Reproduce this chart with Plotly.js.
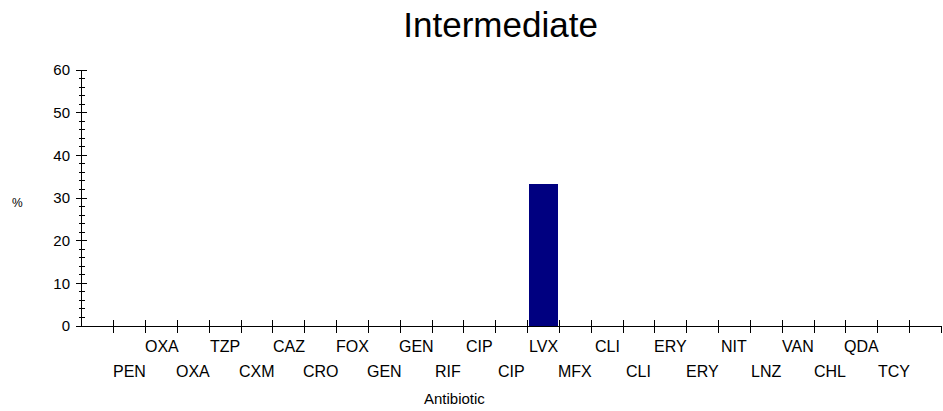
<!DOCTYPE html>
<html>
<head>
<meta charset="utf-8">
<script src="https://cdn.plot.ly/plotly-3.0.1.min.js"></script>
<style>html,body{margin:0;padding:0;background:#fff;}#chart{width:943px;height:411px;}</style>
</head>
<body>
<div id="chart"></div>
<script>
const categories = ['PEN','OXA','OXA','TZP','CXM','CAZ','CRO','FOX','GEN','GEN','RIF','CIP','CIP','LVX','MFX','CLI','CLI','ERY','ERY','NIT','LNZ','VAN','CHL','QDA','TCY'];
const values = [0,0,0,0,0,0,0,0,0,0,0,0,0,33.3,0,0,0,0,0,0,0,0,0,0,0];
const yTickVals = [0,10,20,30,40,50,60];
const titleText = 'Intermediate';
const xTitle = 'Antibiotic';
const yTitle = '%';

const FONT = 'Liberation Sans, Arial, sans-serif';
const firstSlot = 1;             // first category sits in the second slot
const nSlots = 27;
const xpos = categories.map((c, i) => i + firstSlot + 0.5);
const slotEdges = Array.from({length: nSlots}, (_, i) => i + 1);
const xRange = [0, 27.02];
const yRange = [0, 60];

const trace = {
  type: 'bar',
  x: xpos,
  y: values,
  width: 0.9,
  marker: {color: '#000080', line: {width: 0}},
  hoverinfo: 'skip',
  xaxis: 'x',
  yaxis: 'y'
};
// invisible companions so overlay axes get drawn
const ghost = (xa, ya) => ({type: 'scatter', x: [xRange[0]], y: [0], xaxis: xa, yaxis: ya, mode: 'markers', marker: {opacity: 0}, hoverinfo: 'skip', showlegend: false});

const annotations = categories.map((c, i) => ({
  text: c,
  x: xpos[i],
  xref: 'x',
  y: 0,
  yref: 'paper',
  xanchor: 'center',
  yanchor: 'middle',
  yshift: (i % 2 === 1) ? -20 : -45,
  showarrow: false,
  font: {family: FONT, size: 16, color: '#000'}
}));
annotations.push({
  text: xTitle, x: 454, xref: 'paper', y: 0, yref: 'paper', showarrow: false,
  xanchor: 'center', yanchor: 'middle', yshift: -72,
  font: {family: FONT, size: 15, color: '#000'}
});

const margin = {l: 82, r: 1, t: 70, b: 85, pad: 0};
const plotW = 943 - margin.l - margin.r;

const layout = {
  width: 943, height: 411,
  margin: margin,
  paper_bgcolor: '#fff', plot_bgcolor: '#fff',
  showlegend: false,
  title: {
    text: titleText, x: 459/943, xref: 'paper', xanchor: 'center',
    y: 1 - 25/411, yref: 'container', yanchor: 'middle',
    font: {family: FONT, size: 35, color: '#000'}
  },
  xaxis: {
    range: xRange, showgrid: false, zeroline: false,
    showline: true, linecolor: '#000', linewidth: 1,
    tickmode: 'array', tickvals: slotEdges, ticks: 'outside', ticklen: 6, tickcolor: '#000', tickwidth: 1,
    showticklabels: false, fixedrange: true
  },
  xaxis3: {
    overlaying: 'x', anchor: 'y', range: xRange, showgrid: false, zeroline: false, showline: false,
    tickmode: 'array', tickvals: slotEdges, ticks: 'inside', ticklen: 6, tickcolor: '#000', tickwidth: 1,
    showticklabels: false, fixedrange: true
  },
  yaxis: {
    range: yRange, showgrid: false, zeroline: false,
    showline: true, linecolor: '#000', linewidth: 1,
    tickmode: 'array', tickvals: yTickVals, ticks: '', ticklabelstandoff: 8,
    tickfont: {family: FONT, size: 15, color: '#000'},
    fixedrange: true
  },
  yaxis2: {
    overlaying: 'y', anchor: 'free', position: 5 / plotW, side: 'left', range: yRange,
    showgrid: false, zeroline: false, showline: false,
    tickmode: 'array', tickvals: yTickVals, ticks: 'outside', ticklen: 11, tickcolor: '#000', tickwidth: 1,
    showticklabels: false, fixedrange: true
  },
  yaxis3: {
    overlaying: 'y', anchor: 'free', position: 3 / plotW, side: 'left', range: yRange,
    showgrid: false, zeroline: false, showline: false,
    tickmode: 'linear', tick0: 0, dtick: 2, ticks: 'outside', ticklen: 6, tickcolor: '#000', tickwidth: 1,
    showticklabels: false, fixedrange: true
  },
  annotations: annotations.concat([{
    text: yTitle, x: 17, xref: 'paper', xanchor: 'center', y: 0.5, yref: 'paper', yanchor: 'middle',
    showarrow: false, font: {family: FONT, size: 12, color: '#000'}
  }]),
  bargap: 0
};
// fix paper-pixel annotation x positions into paper fractions
layout.annotations.forEach(a => {
  if (a.xref === 'paper') a.x = (a.x - margin.l) / plotW;
});
// '%' vertical: centre near y=203 px
layout.annotations[layout.annotations.length - 1].y = 1 - (203 - 70) / (411 - 70 - 85);

Plotly.newPlot('chart', [trace, ghost('x', 'y2'), ghost('x', 'y3'), ghost('x3', 'y')], layout, {displayModeBar: false, staticPlot: true});
</script>
</body>
</html>
